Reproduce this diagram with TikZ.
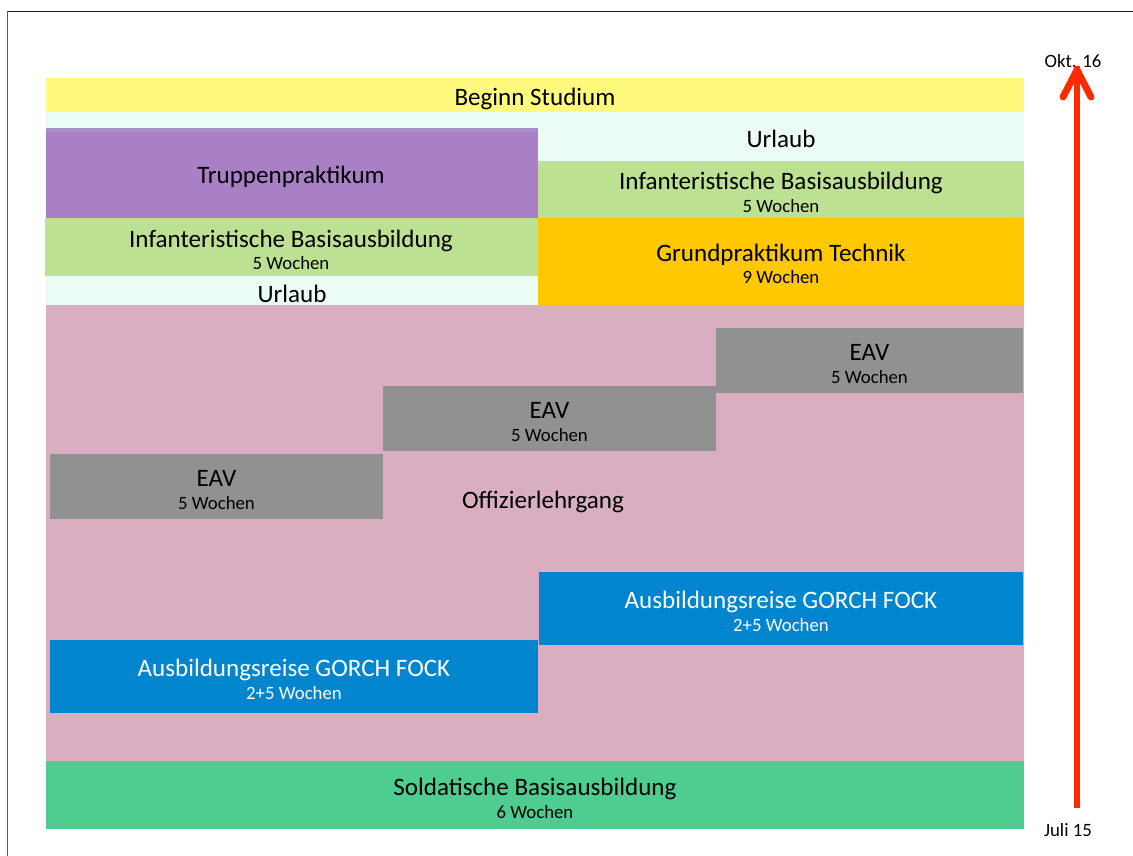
\documentclass[tikz,border=0pt]{standalone}
\usepackage{fontspec}
\setmainfont{Carlito}
\definecolor{cYellow}{HTML}{FFF97D}
\definecolor{cMint}{HTML}{EAFCF3}
\definecolor{cPurple}{HTML}{A97FC6}
\definecolor{cPurpleLt}{HTML}{A98FC9}
\definecolor{cLGreen}{HTML}{BDE193}
\definecolor{cOrange}{HTML}{FFC800}
\definecolor{cPink}{HTML}{D9AEC0}
\definecolor{cGray}{HTML}{919191}
\definecolor{cBlue}{HTML}{0085CE}
\definecolor{cGreen}{HTML}{4FCC8F}
\definecolor{cRed}{HTML}{FF2A00}
\tikzset{
  title/.style={anchor=base, inner sep=0pt, font=\fontsize{18.8pt}{22pt}\selectfont},
  sub/.style={anchor=base, inner sep=0pt, font=\fontsize{14.1pt}{16pt}\selectfont},
  frameline/.style={line width=1.2pt},
  arrowline/.style={cRed, line width=5.2pt}
}
\begin{document}
\begin{tikzpicture}[x=0.75pt,y=-0.75pt]
\useasboundingbox (0,0) rectangle (1133,856);
% frame
\draw[frameline, black!65] (7.5,11.5) -- (7.5,856);
\draw[frameline, black!90] (7.5,11.5) -- (1133,11.5);
% boxes
\fill[cYellow] (46,78) rectangle (1024,112);
\fill[cMint] (46,112) rectangle (538,130);
\fill[cPurpleLt] (46,128) rectangle (538,132);
\fill[cPurple] (46,132) rectangle (538,218);
\fill[cLGreen] (45,218) rectangle (538,276);
\fill[cMint] (46,276) rectangle (538,305);
\fill[cMint] (538,112) rectangle (1024,161);
\fill[cLGreen] (538,161) rectangle (1024,218);
\fill[cOrange] (538,218) rectangle (1024,305);
\fill[cPink] (46,305) rectangle (1024,761);
\fill[cGray] (50,454) rectangle (383,519);
\fill[cGray] (383,386) rectangle (716,451);
\fill[cGray] (716,328) rectangle (1023,393);
\fill[cBlue] (539,572) rectangle (1023,645);
\fill[cBlue] (50,640) rectangle (538,713);
\fill[cGreen] (46,761) rectangle (1024,829);
% texts
\node[title] (beginn) at (535,106) {Beginn Studium};
\node[title] (urlaubR) at (781,147) {Urlaub};
\node[title] (truppe) at (291,184) {Truppenpraktikum};
\node[title] (infR) at (781,190) {Infanteristische Basisausbildung};
\node[sub] (infRs) at (781,212) {5 Wochen};
\node[title] (infL) at (291,247) {Infanteristische Basisausbildung};
\node[sub] (infLs) at (291,269) {5 Wochen};
\node[title] (urlaubL) at (292,302) {Urlaub};
\node[title] (grund) at (781,261) {Grundpraktikum Technik};
\node[sub] (grunds) at (781,283) {9 Wochen};
\node[title] (eav3) at (869.5,360) {EAV};
\node[sub] (eav3s) at (869.5,383) {5 Wochen};
\node[title] (eav2) at (549.5,418) {EAV};
\node[sub] (eav2s) at (549.5,441) {5 Wochen};
\node[title] (eav1) at (216.5,486) {EAV};
\node[sub] (eav1s) at (216.5,509) {5 Wochen};
\node[title] (offz) at (543,508) {Offizierlehrgang};
\node[title, white] (gfR) at (781,608) {Ausbildungsreise GORCH FOCK};
\node[sub, white] (gfRs) at (781,631) {2+5 Wochen};
\node[title, white] (gfL) at (294,676) {Ausbildungsreise GORCH FOCK};
\node[sub, white] (gfLs) at (294,699) {2+5 Wochen};
\node[title] (sold) at (535,795) {Soldatische Basisausbildung};
\node[sub] (solds) at (535,818) {6 Wochen};
\node[sub] (okt) at (1073,68) {Okt. 16};
\node[sub] (juli) at (1068,836) {Juli 15};
% arrow
\coordinate (abot) at (1077,808);
\coordinate (atop) at (1077,70);
\coordinate (aL) at (1063,97);
\coordinate (aR) at (1091,97);
\draw[arrowline] (abot) -- ([yshift=3]atop);
\draw[arrowline, line cap=round, line join=round] (aL) -- (atop) -- (aR);
\end{tikzpicture}
\end{document}
